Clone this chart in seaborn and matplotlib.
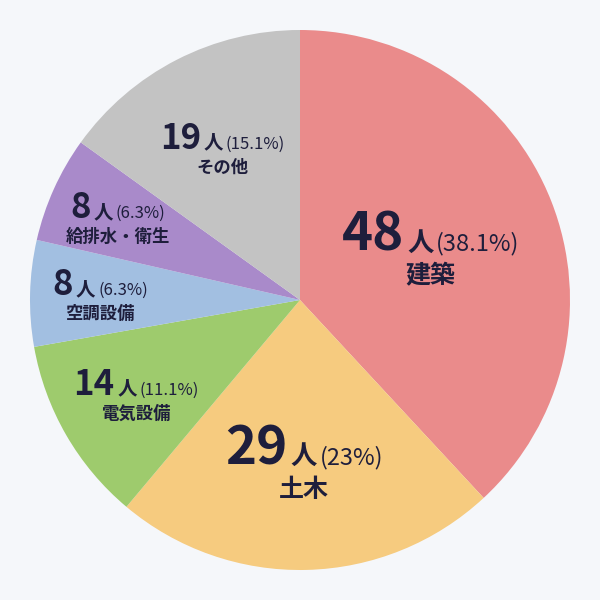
import matplotlib
matplotlib.use("Agg")
import matplotlib.pyplot as plt
import seaborn as sns
import numpy as np
from matplotlib.offsetbox import TextArea, HPacker, VPacker, AnnotationBbox

categories = ["建築", "土木", "電気設備", "空調設備", "給排水・衛生", "その他"]
counts = [48, 29, 14, 8, 8, 19]
percents = ["38.1%", "23%", "11.1%", "6.3%", "6.3%", "15.1%"]
colors = ["#EA8B8B", "#F6CB7F", "#9ECB6D", "#A2BFE1", "#A98ACA", "#C3C3C3"]

sns.set_theme(style="white")
plt.rcParams['font.family'] = ['Noto Sans CJK JP', 'DejaVu Sans']
bg = "#F5F7FA"
ink = "#1E1E3C"

fig = plt.figure(figsize=(6, 6), dpi=100, facecolor=bg)
ax = fig.add_axes([0.05, 0.05, 0.9, 0.9])
ax.set_facecolor(bg)
wedges, _ = ax.pie(counts, colors=colors, startangle=90, counterclock=False,
                   wedgeprops=dict(linewidth=0))
ax.set_xlim(-1, 1)
ax.set_ylim(-1, 1)
ax.set_aspect("equal")
ax.axis("off")

big = [38, 38, 25, 25, 25, 25]
unit = [19, 19, 14, 14, 14, 14]
pct = [17, 17, 12, 12, 12, 12]
cat = [18, 18, 12.5, 12.5, 12.5, 12.5]
rads = [0.52, 0.6, 0.7, 0.74, 0.74, 0.63]
total = sum(counts)
start = 90
for i, w in enumerate(wedges):
    span = counts[i] / total * 360
    mid = np.deg2rad(start - span / 2)
    start -= span
    x, y = rads[i] * np.cos(mid), rads[i] * np.sin(mid)
    line = HPacker(children=[
        TextArea(str(counts[i]), textprops=dict(size=big[i], weight="bold", color=ink)),
        TextArea("人", textprops=dict(size=unit[i], weight="bold", color=ink)),
        TextArea(f"({percents[i]})", textprops=dict(size=pct[i], color=ink)),
    ], align="baseline", pad=0, sep=2)
    box = VPacker(children=[line,
        TextArea(categories[i], textprops=dict(size=cat[i], weight="bold", color=ink))],
        align="center", pad=0, sep=2)
    ax.add_artist(AnnotationBbox(box, (x, y), frameon=False, box_alignment=(0.5, 0.5)))

fig.savefig("out.png", facecolor=bg)
